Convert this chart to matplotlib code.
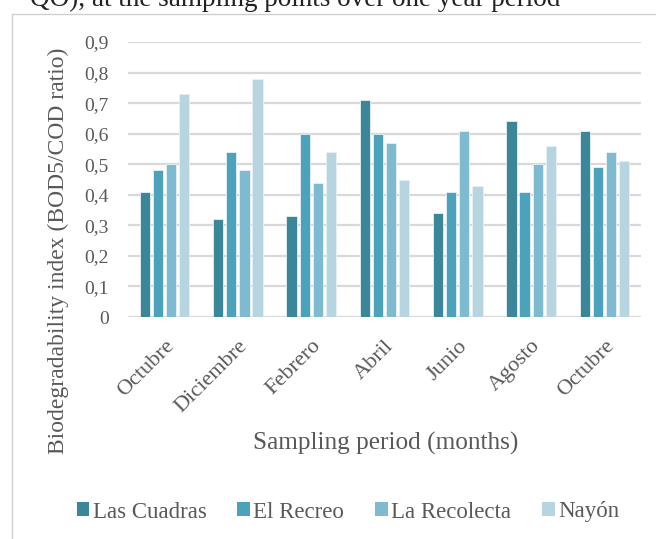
import matplotlib
matplotlib.use("Agg")
import matplotlib.pyplot as plt
from matplotlib.patches import Rectangle, Patch
import numpy as np

months = ["Octubre", "Diciembre", "Febrero", "Abril", "Junio", "Agosto", "Octubre"]
las_cuadras = [0.41, 0.32, 0.33, 0.71, 0.34, 0.64, 0.61]
el_recreo = [0.48, 0.54, 0.60, 0.60, 0.41, 0.41, 0.49]
la_recolecta = [0.50, 0.48, 0.44, 0.57, 0.61, 0.50, 0.54]
nayon = [0.73, 0.78, 0.54, 0.45, 0.43, 0.56, 0.51]
series_names = ["Las Cuadras", "El Recreo", "La Recolecta", "Nayón"]
yticks = [0, 0.1, 0.2, 0.3, 0.4, 0.5, 0.6, 0.7, 0.8, 0.9]
ytick_labels = ["0", "0,1", "0,2", "0,3", "0,4", "0,5", "0,6", "0,7", "0,8", "0,9"]

colors = ["#3b8699", "#4aa3ba", "#7ebbd0", "#b6d5e1"]
txt = "#595959"
plt.rcParams["font.family"] = ["Liberation Serif", "DejaVu Serif"]

W, H = 656, 539
fig = plt.figure(figsize=(W / 100, H / 100), dpi=100)
ax = fig.add_axes([128 / W, 1 - 317 / H, (641 - 128) / W, (317 - 42) / H])

x = np.arange(len(months))
data = [las_cuadras, el_recreo, la_recolecta, nayon]
bw = 0.14
step = 0.179
for k, (vals, c) in enumerate(zip(data, colors)):
    ax.bar(x + (k - 1.5) * step, vals, width=bw, color=c,
           edgecolor="#e8f1f4", linewidth=0.6, zorder=3)

ax.set_xlim(-0.5, len(months) - 0.5)
ax.set_ylim(0, 0.9)
ax.set_yticks(yticks)
ax.set_yticklabels(ytick_labels, fontsize=14, color=txt)
ax.yaxis.grid(True, color="#d9d9d9", linewidth=1.6, zorder=0)
ax.set_axisbelow(True)
for s in ax.spines.values():
    s.set_visible(False)
ax.tick_params(axis="y", length=0, pad=14)
ax.tick_params(axis="x", length=0, pad=14)
ax.set_xticks(x)
ax.set_xticklabels(months, fontsize=16, color=txt, rotation=45,
                   ha="right", va="top", rotation_mode="anchor")

fig.text(58 / W, 1 - 251 / H, "Biodegradability index (BOD5/COD ratio)",
         rotation=90, ha="center", va="center", fontsize=17, color=txt)
fig.text(386 / W, 1 - 443 / H, "Sampling period (months)",
         ha="center", va="center", fontsize=18.2, color=txt)

handles = [Patch(facecolor=c, edgecolor="none") for c in colors]
leg = fig.legend(handles, series_names, loc="center", ncol=4,
                 bbox_to_anchor=(348 / W, 1 - 512 / H), frameon=False,
                 fontsize=16.5, handlelength=0.55, handleheight=0.55,
                 handletextpad=0.15, columnspacing=1.35, borderaxespad=0,
                 borderpad=0)
for t in leg.get_texts():
    t.set_color(txt)

fig.patches.append(Rectangle((12 / W, -0.1), 1.2, 1.1 - 14 / H,
                             transform=fig.transFigure, fill=False,
                             edgecolor="#d0d0d0", linewidth=1.0))
fig.text(30 / W, 1 - 6 / H, "QO), at the sampling points over one year period",
         ha="left", va="baseline", fontsize=19.5, color="#222222")

fig.savefig("out.png", dpi=100)
